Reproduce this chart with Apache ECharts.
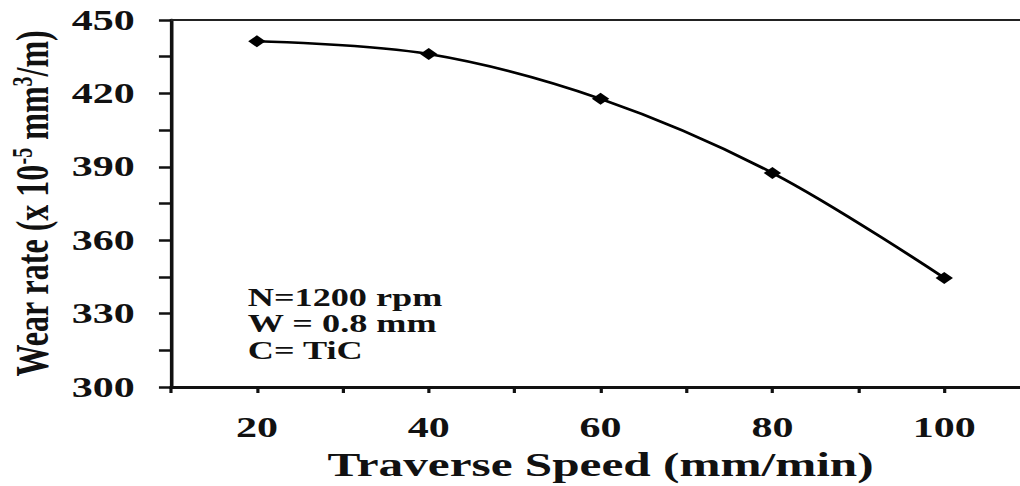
<!DOCTYPE html>
<html>
<head>
<meta charset="utf-8">
<script src="https://cdn.jsdelivr.net/npm/echarts@6/dist/echarts.min.js"></script>
<style>
html,body{margin:0;padding:0;background:#fff;overflow:hidden;width:1020px;height:486px;}
#wrap{width:1020px;height:486px;overflow:hidden;position:relative;}
#chart{width:704px;height:486px;transform:scaleX(1.4489);transform-origin:0 0;position:absolute;left:0;top:0;}
</style>
</head>
<body>
<div id="wrap"><div id="chart"></div></div>
<script>
// Data
const speeds = [20, 40, 60, 80, 100];          // Traverse speed (mm/min)
const wearRate = [441.3, 436.1, 417.8, 387.5, 344.6]; // Wear rate (x 10^-5 mm^3/m)
const xTickLabels = ['20', '40', '60', '80', '100'];
const yTickLabels = ['300', '330', '360', '390', '420', '450'];
const noteLines = ['N=1200 rpm', 'W = 0.8 mm', 'C= TiC'];

const FONT = '"Liberation Serif", "Times New Roman", serif';
const chart = echarts.init(document.getElementById('chart'), null, {renderer: 'svg'});

chart.setOption({
  backgroundColor: '#ffffff',
  animation: false,
  grid: {left: 118, right: -7, top: 20, bottom: 99, containLabel: false, outerBoundsMode: 'none'},
  xAxis: [{
    type: 'value',
    min: 10, max: 110, interval: 10,
    name: 'Traverse Speed (mm/min)',
    nameLocation: 'middle',
    nameGap: 56,
    nameTextStyle: {fontFamily: FONT, fontWeight: 'bold', fontSize: 34, color: '#111'},
    axisLine: {show: true, onZero: false, lineStyle: {color: '#111', width: 3}},
    axisTick: {show: true, inside: false, length: 6, lineStyle: {color: '#111', width: 2.2}},
    axisLabel: {
      margin: 26, fontFamily: FONT, fontWeight: 'bold', fontSize: 29, color: '#111',
      formatter: v => (xTickLabels.indexOf(String(v)) >= 0 ? String(v) : '')
    },
    splitLine: {show: false}
  }, {
    type: 'value', position: 'top',
    min: 10, max: 110,
    axisLine: {show: true, lineStyle: {color: '#222', width: 2}},
    axisTick: {show: false}, axisLabel: {show: false}, splitLine: {show: false}
  }],
  yAxis: {
    type: 'value',
    min: 300, max: 450, interval: 15,
    name: '{n|Wear rate (x 10}{s|-5}{n| mm}{s|3}{n|/m)}',
    nameLocation: 'middle',
    nameGap: 78,
    nameRotate: 90,
    nameTextStyle: {
      rich: {
        n: {fontFamily: FONT, fontWeight: 'bold', fontSize: 32, color: '#111', lineHeight: 34},
        s: {fontFamily: FONT, fontWeight: 'bold', fontSize: 20, color: '#111', lineHeight: 16, verticalAlign: 'top'}
      }
    },
    axisLine: {show: true, lineStyle: {color: '#111', width: 2.5}},
    axisTick: {show: true, inside: false, length: 8.3, lineStyle: {color: '#111', width: 2.5}},
    axisLabel: {
      margin: 25, fontFamily: FONT, fontWeight: 'bold', fontSize: 29, color: '#111',
      formatter: v => (yTickLabels.indexOf(String(v)) >= 0 ? String(v) : '')
    },
    splitLine: {show: false}
  },
  series: [{
    type: 'line',
    data: speeds.map((s, i) => [s, wearRate[i]]),
    smooth: 0.35,
    symbol: 'diamond',
    symbolSize: [12, 12],
    lineStyle: {color: '#000', width: 2.5},
    itemStyle: {color: '#000'},
    z: 5
  }],
  graphic: [{
    type: 'text',
    left: 171, top: 284,
    style: {
      text: noteLines.join('\n'),
      fontFamily: FONT, fontWeight: 'bold', fontSize: 25, lineHeight: 26.5,
      fill: '#111'
    }
  }]
});
</script>
</body>
</html>
